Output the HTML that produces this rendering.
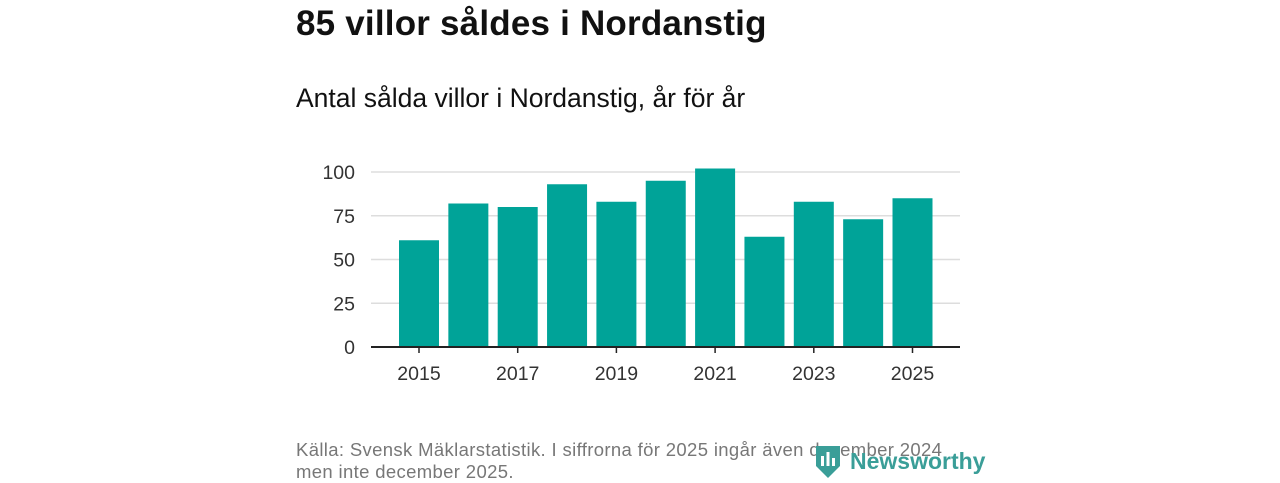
<!DOCTYPE html>
<html><head><meta charset="utf-8"><style>
body{margin:0;width:1280px;height:480px;background:#fff;font-family:"Liberation Sans",sans-serif;overflow:hidden;position:relative}
.t{position:absolute;left:296px;top:4px;font-size:35px;font-weight:bold;color:#111;letter-spacing:0.2px}
.s{position:absolute;left:296px;top:83px;font-size:26.5px;color:#111}
.f{position:absolute;left:296px;top:439px;font-size:18.5px;letter-spacing:0.35px;color:#777;line-height:22px}
svg{position:absolute;left:0;top:0}
</style></head><body>
<div class="t">85 villor såldes i Nordanstig</div>
<div class="s">Antal sålda villor i Nordanstig, år för år</div>
<svg id="c" width="1280" height="480"></svg>
<div class="f">Källa: Svensk Mäklarstatistik. I siffrorna för 2025 ingår även december 2024<br>men inte december 2025.</div>
<svg width="190" height="40" style="left:812px;top:440px">
<path d="M4 6 h24 v20 l-12 12 l-12 -12z" fill="#3a9e98"/>
<rect x="9" y="16" width="3" height="10" fill="#fff"/><rect x="14.5" y="12" width="3" height="14" fill="#fff"/><rect x="20" y="18" width="3" height="8" fill="#fff"/>
<text x="38" y="29" font-size="23" font-weight="bold" fill="#3a9e98" font-family="Liberation Sans, sans-serif">Newsworthy</text>
</svg>
<script>
const years=[2015,2016,2017,2018,2019,2020,2021,2022,2023,2024,2025];
const values=[61,82,80,93,83,95,102,63,83,73,85];
const yTicks=[0,25,50,75,100];
const xTickLabels=[2015,2017,2019,2021,2023,2025];
const svg=document.getElementById('c');const NS='http://www.w3.org/2000/svg';
const x0=371,x1=960,y0=347,yMax=100,yTop=172;
const step=49.35,first=419,bw=40;
const X=i=>first+i*step;
const Y=v=>y0-(v/yMax)*(y0-yTop);
function mk(t,a){const e=document.createElementNS(NS,t);for(const k in a)e.setAttribute(k,a[k]);svg.appendChild(e);return e;}
yTicks.forEach(v=>{
  if(v>0){const g=mk('line',{x1:x0,x2:x1,y1:Y(v),y2:Y(v),stroke:'#ddd','stroke-width':1.5});
  
  }
  const t=mk('text',{x:355,y:Y(v)+7,'text-anchor':'end','font-size':19.5,fill:'#333'});t.textContent=v;
  
  
});
values.forEach((v,i)=>{
  const r=mk('rect',{x:X(i)-bw/2,y:Y(v),width:bw,height:y0-Y(v),fill:'#00a398'});
  
  
});
const ax=mk('line',{x1:x0,x2:x1,y1:y0,y2:y0,stroke:'#222','stroke-width':2});


xTickLabels.forEach(yr=>{
  const i=years.indexOf(yr);
  const tk=mk('line',{x1:X(i),x2:X(i),y1:y0,y2:y0+6,stroke:'#222','stroke-width':1.5});
  
  
  const t=mk('text',{x:X(i),y:380,'text-anchor':'middle','font-size':19.5,fill:'#333'});t.textContent=yr;
  
  
});
</script>
</body></html>
